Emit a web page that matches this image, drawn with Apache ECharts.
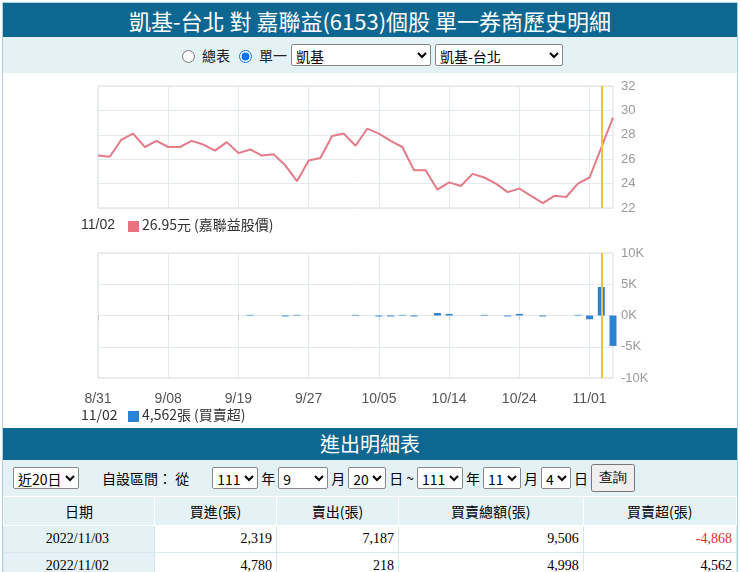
<!DOCTYPE html>
<html><head><meta charset="utf-8">
<script src="https://cdn.jsdelivr.net/npm/echarts@6/dist/echarts.min.js"></script>
<style>
body{margin:0;width:740px;height:572px;overflow:hidden;font-family:"Noto Sans CJK TC","Noto Sans",sans-serif;background:#fff}
.wrap{position:absolute;left:2px;top:2px;width:734px;border:1px solid #a9d3df;}
.hd{background:#0d6791;color:#fff;text-align:center;font-size:22px;height:34px;line-height:34px;font-family:"Noto Sans CJK TC";}
.bar{background:#e5f2f5;height:36px;display:flex;justify-content:center;align-items:center;font-size:14px;color:#222;gap:4px}
select{font-size:14px;height:22px;font-family:"Noto Sans CJK TC";background:#fff;border:1px solid #888;border-radius:2px}
#chart{width:734px;height:355px;background:#fff}
.hd2{background:#0d6791;color:#fff;text-align:center;font-size:20px;height:32px;line-height:32px}
.form{background:#e5f2f5;height:36px;display:flex;align-items:center;font-size:14px;gap:3px;padding-left:10px}
table{border-collapse:collapse;width:734px;font-size:14px}
th{background:#e5f2f5;font-weight:normal;height:26px;border:1px solid #fff}
td{height:24px;border:1px solid #d8e8ee;text-align:right;padding-right:4px;font-family:"Liberation Serif",serif}
td.d{background:#e5f2f5;text-align:center}
</style></head><body>
<div class="wrap">
<div class="hd">凱基-台北 對 嘉聯益(6153)個股 單一券商歷史明細</div>
<div class="bar"><input type="radio">總表 <input type="radio" checked>單一<select style="width:140px"><option>凱基</option></select><select style="width:128px"><option>凱基-台北</option></select></div>
<div id="chart"></div>
<div class="hd2">進出明細表</div>
<div class="form"><select><option>近20日</option></select><span style="margin-left:20px">自設區間： 從</span>
<select style="margin-left:20px"><option>111</option></select>年<select style="width:50px"><option>9</option></select>月<select><option>20</option></select>日 ~ <select><option>111</option></select>年<select><option>11</option></select>月<select><option>4</option></select>日<button style="font-size:14px;height:28px">查詢</button></div>
<table><tr><th style="width:148px">日期</th><th>買進(張)</th><th>賣出(張)</th><th>買賣總額(張)</th><th>買賣超(張)</th></tr>
<tr><td class="d">2022/11/03</td><td>2,319</td><td>7,187</td><td>9,506</td><td style="color:#e0302a">-4,868</td></tr>
<tr><td class="d">2022/11/02</td><td>4,780</td><td>218</td><td>4,998</td><td>4,562</td></tr></table>
</div>
<script>
var dates = ['8/31','9/01','9/02','9/05','9/06','9/07','9/08','9/12','9/13','9/14','9/15','9/16','9/19','9/20','9/21','9/22','9/23','9/26','9/27','9/28','9/29','9/30','10/03','10/04','10/05','10/06','10/07','10/11','10/12','10/13','10/14','10/17','10/18','10/19','10/20','10/21','10/24','10/25','10/26','10/27','10/28','10/31','11/01','11/02','11/03'];
var price = [26.3,26.2,27.6,28.1,27.0,27.5,27.0,27.0,27.5,27.2,26.7,27.4,26.5,26.8,26.3,26.4,25.5,24.2,25.9,26.1,27.9,28.1,27.1,28.5,28.1,27.5,27.0,25.1,25.1,23.5,24.1,23.8,24.8,24.5,24.0,23.3,23.6,23.0,22.4,23.0,22.9,24.0,24.5,26.95,29.4];
var net = [null,null,null,null,null,null,null,null,null,null,null,null,null,100,null,null,-150,100,null,null,null,null,100,null,-150,-150,100,-150,null,400,250,null,null,100,null,-150,250,null,-150,null,null,100,-600,4562,-4868];
var ch = echarts.init(document.getElementById('chart'));
var gray = '#999', split = {show:true,lineStyle:{color:'#e3eaee'}};
function xa(i, show){return {type:'category',gridIndex:i,data:dates,boundaryGap:false,
  axisLine:{show:false},axisTick:{show:show,interval:5,lineStyle:{color:'#ccc'}},
  axisLabel:{show:show,interval:5,color:'#555',fontSize:14,margin:14},splitLine:{show:true,interval:5,lineStyle:{color:'#e3eaee'}}};}
var mark = {symbol:'none',silent:true,label:{show:false},lineStyle:{color:'#f2c230',type:'solid',width:2},data:[{xAxis:'11/02'}]};
ch.setOption({
  animation:false,
  grid:[{left:95,right:124,top:13,height:122,show:true,borderColor:'#ddd'},
        {left:95,right:124,top:180,height:125,show:true,borderColor:'#ddd'}],
  xAxis:[xa(0,false),Object.assign(xa(1,true),{boundaryGap:false})],
  yAxis:[{type:'value',gridIndex:0,position:'right',min:22,max:32,interval:2,axisLabel:{color:gray,fontSize:13},splitLine:split},
         {type:'value',gridIndex:1,position:'right',min:-10000,max:10000,interval:5000,axisLabel:{color:gray,fontSize:13,formatter:function(v){return v/1000+'K';}},splitLine:split}],
  series:[{type:'line',data:price,showSymbol:false,lineStyle:{color:'#e37b89',width:2},itemStyle:{color:'#e37b89'},markLine:mark},
          {type:'bar',xAxisIndex:1,yAxisIndex:1,data:net,barWidth:7,itemStyle:{color:'#2b83d6'},markLine:mark}],
  graphic:[
    {type:'text',left:78,top:145,style:{text:'11/02',fontSize:14,fill:'#333',font:'14px Noto Sans CJK TC'}},
    {type:'rect',left:125,top:148,shape:{width:11,height:11},style:{fill:'#e8727f'}},
    {type:'text',left:139,top:145,style:{text:'26.95元 (嘉聯益股價)',fill:'#333',font:'14px Noto Sans CJK TC'}},
    {type:'text',left:78,top:335,style:{text:'11/02',fill:'#333',font:'14px Noto Sans CJK TC'}},
    {type:'rect',left:125,top:338,shape:{width:11,height:11},style:{fill:'#2b83d6'}},
    {type:'text',left:139,top:335,style:{text:'4,562張 (買賣超)',fill:'#333',font:'14px Noto Sans CJK TC'}}
  ]
});
</script></body></html>
